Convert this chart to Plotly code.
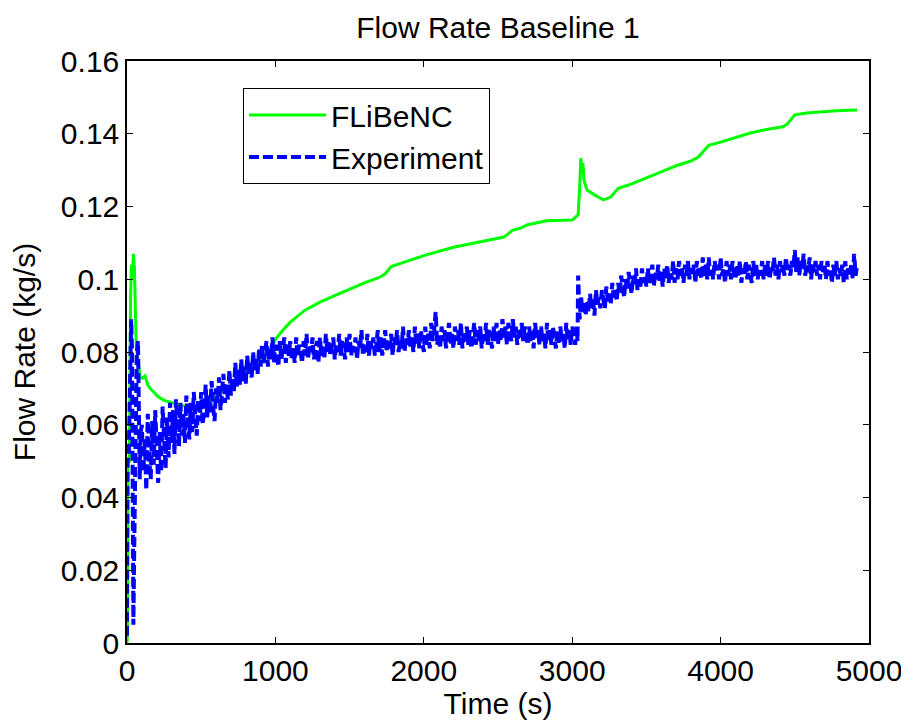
import plotly.graph_objects as go

# ---------------- data ----------------
title_text = "Flow Rate Baseline 1"
x_label = "Time (s)"
y_label = "Flow Rate (kg/s)"
series_names = ["FLiBeNC", "Experiment"]

x_tick_vals = [0, 1000, 2000, 3000, 4000, 5000]
x_tick_text = ["0", "1000", "2000", "3000", "4000", "5000"]
y_tick_vals = [0, 0.02, 0.04, 0.06, 0.08, 0.10, 0.12, 0.14, 0.16]
y_tick_text = ["0", "0.02", "0.04", "0.06", "0.08", "0.1", "0.12", "0.14", "0.16"]

# FLiBeNC (model) curve
model_t = [0, 3, 6, 16, 24, 30, 36, 43, 50, 56, 62, 70, 80, 90, 105, 121, 140, 160,
           180, 210, 250, 300, 350, 400, 500, 600, 700, 800, 900, 980, 1000, 1050,
           1100, 1200, 1300, 1400, 1500, 1600, 1700, 1740, 1780, 1850, 2000, 2200,
           2400, 2540, 2600, 2650, 2700, 2780, 2830, 3000, 3040, 3050, 3058, 3066,
           3072, 3080, 3100, 3150, 3210, 3260, 3310, 3380, 3500, 3600, 3700, 3800,
           3850, 3920, 4000, 4100, 4200, 4300, 4420, 4450, 4500, 4580, 4670, 4780, 4920]
model_y = [0.0, 0.004, 0.050, 0.050, 0.095, 0.104, 0.100, 0.107, 0.103, 0.095, 0.082,
           0.079, 0.075, 0.0728, 0.0728, 0.0734, 0.071, 0.0698, 0.069, 0.0677, 0.0667,
           0.066, 0.0655, 0.0650, 0.065, 0.068, 0.071, 0.075, 0.078, 0.0815, 0.0835,
           0.0860, 0.0882, 0.0915, 0.0937, 0.0955, 0.0973, 0.0990, 0.1005, 0.1015,
           0.1035, 0.1045, 0.1065, 0.1088, 0.1105, 0.1116, 0.1135, 0.1140, 0.1150,
           0.1157, 0.1161, 0.1163, 0.1177, 0.1250, 0.1333, 0.1290, 0.1320, 0.1270,
           0.1245, 0.1232, 0.1218, 0.1226, 0.1250, 0.1259, 0.1278, 0.1295, 0.1312,
           0.1325, 0.1336, 0.1368, 0.1377, 0.1390, 0.1402, 0.1411, 0.1419, 0.1427,
           0.1452, 0.1457, 0.1460, 0.1463, 0.1465]

# Experiment (measured) curve
exp_t_start = [0, 4, 12, 20, 28, 34, 38, 43, 50, 58, 66, 74, 80, 86, 92]
exp_y_start = [0.002, 0.050, 0.052, 0.070, 0.089, 0.080, 0.040, 0.005, 0.030, 0.060,
               0.080, 0.083, 0.065, 0.045, 0.058]
exp_t_mid = list(range(100, 3021, 10))
exp_y_mid = [
    0.060, 0.047, 0.056, 0.042, 0.063, 0.050, 0.045, 0.061, 0.049, 0.064,
    0.052, 0.044, 0.058, 0.047, 0.065, 0.053, 0.048, 0.062, 0.051, 0.066,
    0.055, 0.064, 0.052, 0.067, 0.058, 0.054, 0.066, 0.057, 0.063, 0.055,
    0.068, 0.059, 0.056, 0.066, 0.058, 0.069, 0.060, 0.057, 0.067, 0.061,
    0.069, 0.060, 0.064, 0.071, 0.062, 0.068, 0.063, 0.072, 0.065, 0.061,
    0.070, 0.066, 0.073, 0.064, 0.069, 0.074, 0.066, 0.071, 0.067, 0.075,
    0.068, 0.073, 0.069, 0.077, 0.070, 0.075, 0.071, 0.078, 0.072, 0.076,
    0.071, 0.079, 0.074, 0.077, 0.073, 0.080, 0.075, 0.078, 0.074, 0.081,
    0.076, 0.082, 0.077, 0.080, 0.083, 0.076, 0.081, 0.078, 0.084, 0.077,
    0.082, 0.079, 0.076, 0.083, 0.078, 0.081, 0.084, 0.077, 0.082, 0.079,
    0.083, 0.078, 0.081, 0.077, 0.084, 0.079, 0.082, 0.080, 0.077, 0.083,
    0.079, 0.085, 0.078, 0.082, 0.080, 0.084, 0.078, 0.081, 0.083, 0.077,
    0.084, 0.079, 0.082, 0.078, 0.085, 0.080, 0.083, 0.079, 0.081, 0.084,
    0.078, 0.082, 0.080, 0.085, 0.079, 0.083, 0.081, 0.078, 0.084, 0.080,
    0.085, 0.079, 0.082, 0.080, 0.084, 0.078, 0.083, 0.081, 0.086, 0.079,
    0.082, 0.080, 0.085, 0.079, 0.083, 0.081, 0.084, 0.079, 0.082, 0.086,
    0.080, 0.084, 0.079, 0.082, 0.086, 0.080, 0.083, 0.081, 0.085, 0.079,
    0.084, 0.082, 0.086, 0.080, 0.083, 0.081, 0.087, 0.080, 0.084, 0.082,
    0.086, 0.081, 0.084, 0.080, 0.087, 0.082, 0.085, 0.081, 0.086, 0.083,
    0.080, 0.087, 0.082, 0.085, 0.081, 0.088, 0.083, 0.086, 0.091, 0.082,
    0.085, 0.081, 0.087, 0.083, 0.086, 0.081, 0.084, 0.088, 0.082, 0.085,
    0.081, 0.087, 0.083, 0.086, 0.082, 0.088, 0.081, 0.085, 0.083, 0.087,
    0.082, 0.086, 0.081, 0.084, 0.088, 0.082, 0.086, 0.083, 0.087, 0.081,
    0.085, 0.083, 0.088, 0.082, 0.086, 0.084, 0.081, 0.087, 0.083, 0.088,
    0.082, 0.086, 0.083, 0.089, 0.084, 0.087, 0.082, 0.088, 0.085, 0.083,
    0.089, 0.084, 0.087, 0.082, 0.086, 0.084, 0.088, 0.083, 0.087, 0.085,
    0.082, 0.087, 0.083, 0.086, 0.081, 0.088, 0.084, 0.086, 0.082, 0.087,
    0.083, 0.085, 0.081, 0.088, 0.083, 0.086, 0.082, 0.087, 0.084, 0.081,
    0.086, 0.082, 0.087, 0.083, 0.085, 0.081, 0.088, 0.083, 0.086, 0.082,
    0.087, 0.084, 0.082,
]
exp_t_jump = [3030, 3036, 3040, 3044, 3050, 3060, 3070, 3080, 3090]
exp_y_jump = [0.087, 0.083, 0.101, 0.092, 0.089, 0.095, 0.091, 0.094, 0.090]
exp_t_end = list(range(3100, 4921, 10))
exp_y_end = [
    0.094, 0.091, 0.096, 0.092, 0.095, 0.090, 0.097, 0.093, 0.095, 0.092,
    0.097, 0.094, 0.092, 0.098, 0.094, 0.096, 0.093, 0.099, 0.095, 0.097,
    0.094, 0.099, 0.096, 0.101, 0.097, 0.095, 0.100, 0.097, 0.102, 0.098,
    0.096, 0.101, 0.098, 0.103, 0.097, 0.100, 0.098, 0.103, 0.099, 0.101,
    0.098, 0.103, 0.099, 0.101, 0.104, 0.098, 0.102, 0.100, 0.104, 0.099,
    0.102, 0.098, 0.103, 0.100, 0.104, 0.099, 0.102, 0.100, 0.105, 0.099,
    0.103, 0.100, 0.105, 0.101, 0.103, 0.099, 0.104, 0.101, 0.105, 0.100,
    0.103, 0.101, 0.104, 0.099, 0.105, 0.101, 0.103, 0.100, 0.106, 0.101,
    0.104, 0.100, 0.106, 0.101, 0.103, 0.100, 0.105, 0.102, 0.104, 0.100,
    0.106, 0.101, 0.103, 0.099, 0.105, 0.101, 0.104, 0.100, 0.105, 0.102,
    0.100, 0.104, 0.101, 0.105, 0.099, 0.103, 0.101, 0.105, 0.100, 0.104,
    0.102, 0.099, 0.105, 0.101, 0.104, 0.100, 0.103, 0.101, 0.105, 0.100,
    0.104, 0.101, 0.105, 0.100, 0.103, 0.102, 0.106, 0.101, 0.104, 0.100,
    0.105, 0.102, 0.104, 0.101, 0.106, 0.102, 0.104, 0.101, 0.105, 0.103,
    0.108, 0.102, 0.106, 0.101, 0.105, 0.103, 0.107, 0.101, 0.104, 0.102,
    0.106, 0.100, 0.104, 0.102, 0.105, 0.101, 0.104, 0.100, 0.105, 0.102,
    0.104, 0.100, 0.105, 0.101, 0.103, 0.099, 0.104, 0.101, 0.105, 0.100,
    0.103, 0.101, 0.104, 0.099, 0.105, 0.100, 0.103, 0.101, 0.104, 0.100,
    0.107, 0.101, 0.104,
]

exp_t = exp_t_start + exp_t_mid + exp_t_jump + exp_t_end
exp_y = exp_y_start + exp_y_mid + exp_y_jump + exp_y_end
assert len(exp_t) == len(exp_y), (len(exp_t), len(exp_y))

# ---------------- figure ----------------
FONT = "Arial, Liberation Sans, sans-serif"
FS = 30

fig = go.Figure()
fig.add_trace(go.Scatter(
    x=model_t, y=model_y, mode="lines", name=series_names[0],
    line=dict(color="#00FF00", width=3),
))
fig.add_trace(go.Scatter(
    x=exp_t, y=exp_y, mode="lines", name=series_names[1],
    line=dict(color="#0000FF", width=4, dash="10px,4px"),
))

axis_common = dict(
    showline=True, linecolor="black", linewidth=1.5, mirror="ticks",
    ticks="inside", ticklen=6, tickcolor="black", tickwidth=1,
    showgrid=False, zeroline=False,
    tickfont=dict(family=FONT, size=FS, color="black"),
    title_font=dict(family=FONT, size=FS, color="black"),
)

fig.update_xaxes(
    range=[0, 5000], tickvals=x_tick_vals, ticktext=x_tick_text,
    title_text=x_label, title_standoff=2, automargin=False, **axis_common,
)
fig.update_yaxes(
    range=[0, 0.16], tickvals=y_tick_vals, ticktext=y_tick_text,
    title_text=y_label, title_standoff=18, automargin=False, **axis_common,
)

# page body has an 8px margin, so the figure is shifted by 8px
W, H = 901, 713
fig.update_layout(
    width=W, height=H,
    margin=dict(l=119, r=W - 119 - 742, t=53, b=H - 53 - 582),
    paper_bgcolor="white", plot_bgcolor="white",
    font=dict(family=FONT, size=FS, color="black"),
    title=dict(text=title_text, x=0.5, xref="paper", y=1 - 19 / H,
               yref="container", yanchor="middle", xanchor="center",
               font=dict(family=FONT, size=FS, color="black")),
    legend=dict(
        x=(243 - 127) / 742, y=(643 - 88) / 582, xanchor="left", yanchor="top",
        bordercolor="black", borderwidth=1, bgcolor="white",
        font=dict(family=FONT, size=FS, color="black"),
        tracegroupgap=0, itemwidth=77,
    ),
    showlegend=True,
)

fig.write_html("out.html")
